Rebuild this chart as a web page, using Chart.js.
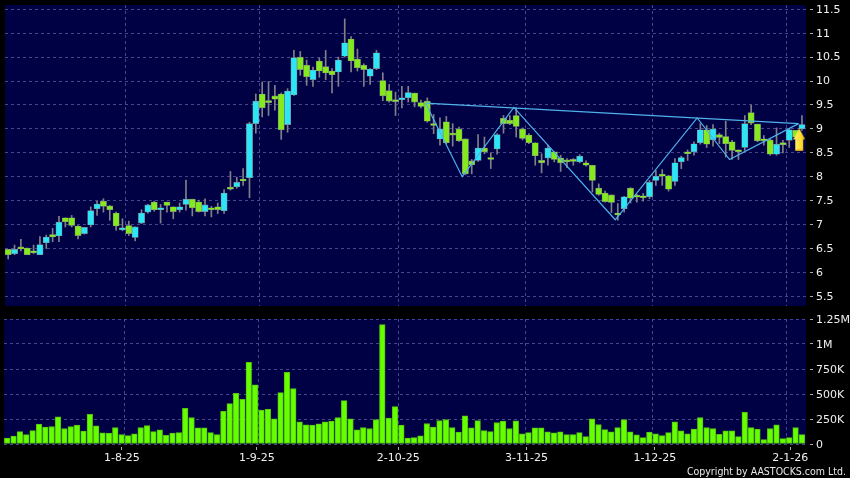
<!DOCTYPE html>
<html><head><meta charset="utf-8">
<script src="https://cdn.jsdelivr.net/npm/chart.js@4/dist/chart.umd.min.js"></script>
<style>
html,body{margin:0;padding:0;background:#000;width:850px;height:478px;overflow:hidden}
canvas{position:absolute;left:0}
#copy{position:absolute;right:4px;top:465px;color:#e8e8e8;font:10.5px "DejaVu Sans Condensed","DejaVu Sans",sans-serif;white-space:nowrap}
</style></head><body>
<canvas id="price" width="850" height="312" style="top:0"></canvas>
<canvas id="vol" width="850" height="168" style="top:310px"></canvas>
<div id="copy">Copyright by AASTOCKS.com Ltd.</div>
<script>
const opens=[6.48,6.39,6.50,6.51,6.42,6.37,6.62,6.79,6.76,7.14,7.14,6.97,6.81,6.99,7.33,7.49,7.39,7.24,6.89,6.98,6.73,7.03,7.26,7.47,7.31,7.47,7.37,7.31,7.42,7.53,7.47,7.27,7.33,7.37,7.29,7.75,7.79,7.94,7.98,9.11,9.73,9.56,9.69,9.73,9.09,9.71,10.50,10.33,10.03,10.42,10.30,10.21,10.19,10.52,10.88,10.46,10.33,10.10,10.26,10.01,9.80,9.59,9.61,9.65,9.75,9.55,9.58,9.09,8.79,9.15,8.88,9.00,8.79,8.33,8.34,8.60,8.37,8.58,9.22,9.18,9.28,9.00,8.87,8.71,8.34,8.39,8.52,8.39,8.33,8.34,8.31,8.29,8.24,7.76,7.66,7.62,7.24,7.33,7.76,7.59,7.58,7.58,7.92,8.04,8.02,7.90,8.31,8.50,8.52,8.71,8.98,8.77,8.88,8.84,8.73,8.56,8.61,9.34,9.10,8.76,8.77,8.47,8.68,8.76,8.97,9.00];
const highs=[6.48,6.57,6.69,6.51,6.57,6.75,6.78,6.92,7.17,7.14,7.19,6.98,6.94,7.37,7.49,7.54,7.40,7.26,7.12,7.07,6.95,7.31,7.42,7.49,7.42,7.47,7.37,7.45,7.93,7.53,7.51,7.54,7.38,7.45,7.73,8.11,7.99,8.17,9.14,9.73,9.98,9.99,9.91,9.75,9.84,10.64,10.62,10.44,10.29,10.48,10.64,10.26,10.50,11.30,10.93,10.67,10.36,10.26,10.64,10.17,9.93,9.77,9.89,9.89,9.75,9.60,9.65,9.30,9.23,9.26,9.11,9.04,8.79,8.36,8.88,8.83,8.50,8.90,9.28,9.28,9.44,9.02,8.90,8.71,8.48,8.66,8.52,8.45,8.38,8.38,8.46,8.33,8.24,7.85,7.70,7.62,7.44,7.59,7.77,7.63,7.65,7.92,8.13,8.15,8.03,8.38,8.43,8.56,8.73,9.11,9.07,9.09,8.91,9.16,8.76,8.56,9.28,9.50,9.10,8.86,8.80,9.02,8.76,9.00,8.97,9.28];
const lows=[6.28,6.37,6.45,6.37,6.39,6.37,6.50,6.64,6.64,6.95,6.95,6.70,6.80,6.95,7.19,7.26,7.09,6.88,6.87,6.77,6.66,7.02,7.24,7.28,7.03,7.26,7.12,7.26,7.30,7.18,7.26,7.18,7.16,7.23,7.23,7.72,7.76,7.82,7.56,8.91,9.25,9.28,9.39,8.78,8.93,9.70,10.12,9.91,9.89,10.08,10.03,9.75,9.89,10.50,10.19,10.21,9.89,9.93,10.24,9.59,9.56,9.28,9.44,9.56,9.46,9.44,9.14,8.90,8.66,8.69,8.64,8.74,8.04,8.06,8.32,8.48,8.17,8.47,8.91,9.09,8.83,8.77,8.69,8.24,8.08,8.24,8.31,8.11,8.19,8.24,8.29,8.22,7.68,7.61,7.47,7.25,7.09,7.26,7.45,7.47,7.49,7.54,7.82,7.82,7.70,7.82,8.17,8.34,8.45,8.68,8.61,8.64,8.69,8.41,8.36,8.36,8.55,9.09,8.73,8.66,8.45,8.45,8.50,8.61,8.80,8.97];
const closes=[6.37,6.48,6.49,6.37,6.41,6.58,6.74,6.74,7.05,7.06,6.98,6.77,6.94,7.29,7.43,7.38,7.31,6.97,6.93,6.81,6.95,7.24,7.41,7.31,7.35,7.40,7.27,7.37,7.53,7.35,7.27,7.41,7.31,7.31,7.66,7.74,7.88,7.91,9.11,9.58,9.44,9.55,9.62,8.98,9.79,10.49,10.24,10.09,10.23,10.21,10.17,10.13,10.44,10.80,10.42,10.28,10.24,10.25,10.59,9.69,9.58,9.57,9.64,9.76,9.56,9.47,9.16,9.07,9.00,8.71,8.87,8.75,8.06,8.25,8.60,8.52,8.36,8.88,9.11,9.11,9.05,8.80,8.71,8.44,8.29,8.60,8.36,8.29,8.31,8.32,8.43,8.24,7.92,7.63,7.48,7.46,7.20,7.58,7.55,7.57,7.56,7.88,8.01,8.01,7.74,8.29,8.40,8.48,8.69,8.98,8.68,9.00,8.82,8.69,8.55,8.52,9.11,9.12,8.75,8.75,8.47,8.68,8.67,8.98,8.83,9.09];
const volumesK=[60,80,124,94,134,200,168,175,272,155,175,188,128,296,181,111,108,165,94,84,101,165,185,124,141,87,108,114,356,265,161,161,114,94,326,403,507,447,816,591,339,346,252,514,716,554,222,192,188,202,222,228,265,433,252,141,165,155,245,1193,259,373,188,60,64,81,205,168,235,245,165,118,282,161,235,134,124,215,228,155,232,101,114,161,161,121,111,121,94,94,114,74,252,195,144,121,165,245,121,91,64,118,101,84,114,222,131,101,148,265,165,155,97,131,131,74,316,165,148,44,155,192,54,64,165,94];
const priceTicks=[5.5,6,6.5,7,7.5,8,8.5,9,9.5,10,10.5,11,11.5];
const volumeTicks=[0,250,500,750,1000,1250];
const volumeTickLabels=["0","250K","500K","750K","1M","1.25M"];
const gridPositions=[18.5,39.5,61.5,81.5,101.5,122.5];
const datePositions=[18.04,39.27,61.5,81.67,101.87,123.15];
const dateLabels=["1-8-25","1-9-25","2-10-25","3-11-25","1-12-25","2-1-26"];
const zigzagX=[65.74,71.5,79.63,95.6,108.5,113.6,124.46];
const zigzagY=[9.53,8.00,9.45,7.10,9.23,8.36,9.11];
const necklineX=[65.74,124.46];
const necklineY=[9.54,9.11];
const arrowX=[124.57];
const arrowY=[8.77];

const NAVY="#000045",GRID="#46468a",FONT='"DejaVu Sans"',CYAN="#2ce6f6",GREEN="#84ea1e",EDGE="#808088",LINE="#4fb2ea";
const XMIN=-0.5,XMAX=125.64;
const panelBg={id:"panelBg",beforeDraw(c){const a=c.chartArea,x=c.ctx;x.save();x.fillStyle=NAVY;x.fillRect(a.left,a.top,a.right-a.left,a.bottom-a.top);x.restore();}};
const setTicks=arr=>s=>{s.ticks=arr.map(v=>({value:v}));};
const noPad=s=>{s.paddingTop=0;s.paddingBottom=0;s.paddingLeft=0;s.paddingRight=0;};
const xGrid={type:"linear",min:XMIN,max:XMAX,offset:false,afterBuildTicks:setTicks(gridPositions),afterFit(s){s.height=0;noPad(s);},border:{display:false,dash:[3,3]},
  grid:{color:GRID,lineWidth:1,offset:false,drawTicks:false,tickLength:0},ticks:{display:false}};
function rightAxis(min,max,ticks,fmt,shift){return {position:"right",min,max,afterBuildTicks:setTicks(ticks),afterFit(s){s.width=44;noPad(s);},border:{display:false,dash:[3,3]},
  grid:{color:GRID,lineWidth:1,tickLength:9,tickColor:"#b0b0b0",tickBorderDash:[0,4,3,99],tickWidth:1},
  ticks:{color:"#f0f0f0",padding:1,labelOffset:shift,font:{family:FONT,size:11},callback:fmt}};}
const arrow=document.createElement("canvas");arrow.width=12;arrow.height=23;
(function(){const x=arrow.getContext("2d");const g=x.createLinearGradient(0,0,12,0);g.addColorStop(0,"#fff27a");g.addColorStop(0.65,"#ffdc28");g.addColorStop(1,"#e8a010");x.fillStyle=g;
x.beginPath();x.moveTo(6,0);x.lineTo(12,11);x.lineTo(10,11);x.lineTo(10,23);x.lineTo(2,23);x.lineTo(2,11);x.lineTo(0,11);x.closePath();x.fill();
x.fillStyle="#c88a10";x.fillRect(2,21.5,8,1.5);})();

const idx=opens.map((_,i)=>i);
new Chart(document.getElementById("price"),{
 data:{datasets:[
  {type:"scatter",order:-1,data:arrowX.map((v,i)=>({x:v,y:arrowY[i]})),pointStyle:arrow,clip:false},
  {type:"line",order:1,data:zigzagX.map((v,i)=>({x:v,y:zigzagY[i]})),borderColor:LINE,borderWidth:1.2,pointRadius:0,tension:0},
  {type:"line",order:1,data:necklineX.map((v,i)=>({x:v,y:necklineY[i]})),borderColor:LINE,borderWidth:1.2,pointRadius:0,tension:0},
  {type:"bar",order:2,data:idx.map(i=>({x:i,y:[opens[i],closes[i]]})),barThickness:6.2,minBarLength:2,borderWidth:0.6,borderSkipped:false,borderColor:EDGE,
    backgroundColor:c=>{const i=c.dataIndex;return closes[i]>=opens[i]?CYAN:GREEN;}},
  {type:"bar",order:3,data:idx.map(i=>({x:i,y:[lows[i],highs[i]]})),barThickness:1,backgroundColor:EDGE,borderWidth:0}
 ]},
 options:{responsive:false,animation:false,events:[],grouped:false,
  layout:{padding:{left:4,top:5,right:0,bottom:6}},
  plugins:{legend:{display:false},tooltip:{enabled:false}},
  scales:{x:xGrid,y:rightAxis(5.297,11.59,priceTicks,v=>String(v),0.5)}},
 plugins:[panelBg]});

new Chart(document.getElementById("vol"),{
 data:{datasets:[
  {type:"bar",data:idx.map(i=>({x:i,y:volumesK[i]})),barThickness:5.6,borderWidth:1,borderSkipped:false,borderColor:"#55c40f",backgroundColor:"#66ff00",xAxisID:"x",yAxisID:"y"}
 ]},
 options:{responsive:false,animation:false,events:[],
  layout:{padding:{left:4,top:9,right:0,bottom:12}},
  plugins:{legend:{display:false},tooltip:{enabled:false}},
  scales:{
   x:xGrid,
   xLabels:{type:"linear",position:"bottom",min:XMIN,max:XMAX,offset:false,afterBuildTicks:setTicks(datePositions),afterFit(s){s.height=22;noPad(s);},border:{display:false},
     grid:{drawOnChartArea:false,offset:false,tickLength:6,tickColor:"#b0b0b0",tickBorderDash:[0,3,3,99]},
     ticks:{color:"#f0f0f0",maxRotation:0,autoSkip:false,padding:2,font:{family:FONT,size:11},callback:(v,i)=>dateLabels[i]}},
   y:rightAxis(0,1250,volumeTicks,(v,i)=>volumeTickLabels[i],1)}},
 plugins:[panelBg]});
</script></body></html>
